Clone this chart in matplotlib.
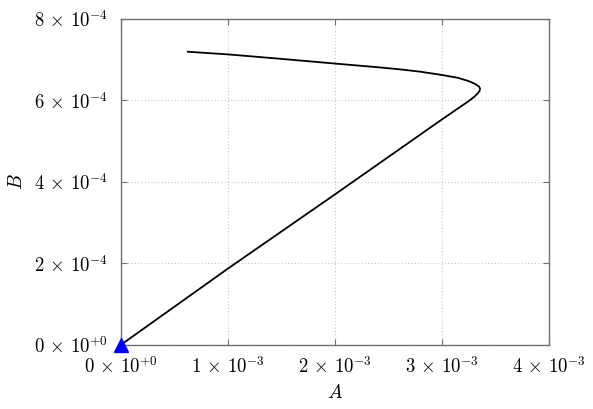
import matplotlib
matplotlib.use("Agg")
import matplotlib.pyplot as plt

plt.rcParams["mathtext.fontset"] = "cm"
plt.rcParams["font.family"] = "serif"
plt.rcParams["font.serif"] = ["DejaVu Serif"]

# path: from origin up the lower branch, round the nose, back along the upper branch
a_vals = [0.0, 1.0e-3, 2.0e-3, 2.5e-3, 3.0e-3, 3.15e-3, 3.25e-3, 3.30e-3,
          3.335e-3, 3.352e-3, 3.356e-3,
          3.345e-3, 3.31e-3, 3.25e-3, 3.15e-3, 3.0e-3, 2.8e-3, 2.6e-3,
          2.4e-3, 2.0e-3, 1.5e-3, 1.0e-3, 0.627e-3]
b_vals = [0.0, 1.87e-4, 3.69e-4, 4.61e-4, 5.53e-4, 5.80e-4, 5.98e-4, 6.08e-4,
          6.17e-4, 6.23e-4, 6.29e-4,
          6.34e-4, 6.40e-4, 6.47e-4, 6.55e-4, 6.62e-4, 6.70e-4, 6.76e-4,
          6.81e-4, 6.90e-4, 7.015e-4, 7.125e-4, 7.19e-4]

x_ticks = [0, 1e-3, 2e-3, 3e-3, 4e-3]
x_tick_labels = [r"$0\,\times\,10^{+0}$", r"$1\,\times\,10^{-3}$", r"$2\,\times\,10^{-3}$",
                 r"$3\,\times\,10^{-3}$", r"$4\,\times\,10^{-3}$"]
y_ticks = [0, 2e-4, 4e-4, 6e-4, 8e-4]
y_tick_labels = [r"$0\,\times\,10^{+0}$", r"$2\,\times\,10^{-4}$", r"$4\,\times\,10^{-4}$",
                 r"$6\,\times\,10^{-4}$", r"$8\,\times\,10^{-4}$"]

fig = plt.figure(figsize=(5.93, 4.09), dpi=100)
ax = fig.add_axes([0.2035, 0.1565, 0.9258 - 0.2035, 0.9543 - 0.1565])

ax.plot(a_vals, b_vals, color="black", lw=1.3, zorder=3)
ax.plot(a_vals[0], b_vals[0], marker="^", color="blue", markersize=10,
        clip_on=False, zorder=4)

ax.set_xlim(0, 4e-3)
ax.set_ylim(0, 8e-4)
ax.set_xticks(x_ticks)
ax.set_xticklabels(x_tick_labels)
ax.set_yticks(y_ticks)
ax.set_yticklabels(y_tick_labels)

ax.grid(True, color="#c8c8c8", linestyle=(0, (1, 2)), lw=0.8)
ax.tick_params(direction="in", length=4, width=0.8, color="#707070",
               top=True, right=True, labelsize=13.5)
ax.tick_params(axis="x", pad=8)
ax.tick_params(axis="y", pad=9)
for s in ax.spines.values():
    s.set_color("#707070")
    s.set_linewidth(1.0)

ax.set_xlabel(r"$A$", fontsize=14, labelpad=5)
ax.set_ylabel(r"$B$", fontsize=14, labelpad=6)

fig.savefig("out.png", dpi=100)
